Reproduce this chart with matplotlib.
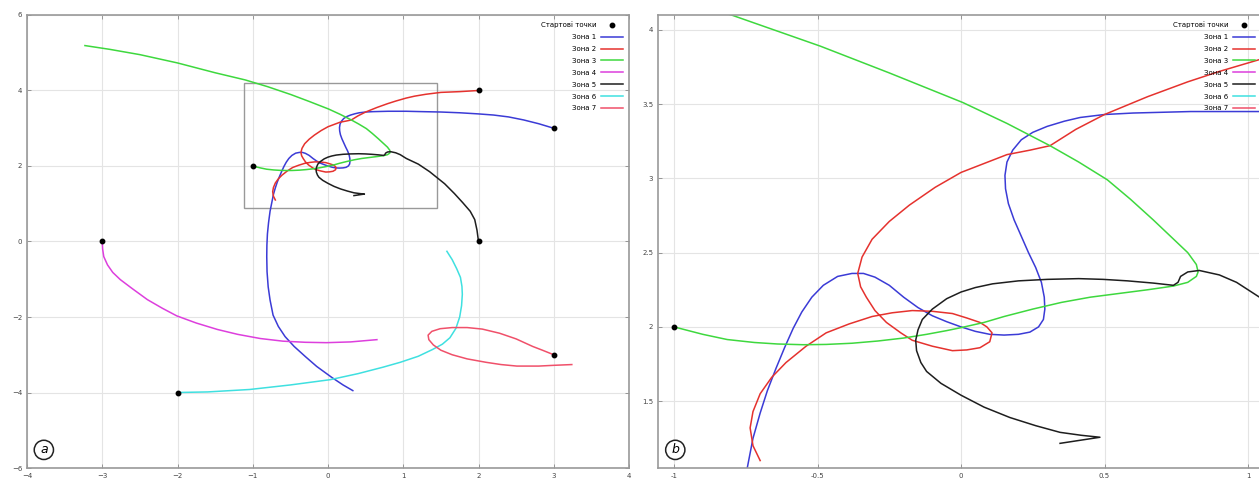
import matplotlib
matplotlib.use("Agg")
import matplotlib.pyplot as plt
from matplotlib.patches import Rectangle

# starting points of the trajectories
start_x = [3, 2, -1, -3, 2, -2, 3]
start_y = [3, 4, 2, 0, 0, -4, -3]

# trajectories
zone1_x = [3.0, 2.8, 2.6, 2.4, 2.2, 2.0, 1.75, 1.5, 1.25, 1.04, 0.8, 0.6, 0.5, 0.415, 0.36,
           0.30, 0.25, 0.21, 0.18, 0.16, 0.153, 0.155, 0.165, 0.185, 0.21, 0.235, 0.26, 0.28,
           0.29, 0.292, 0.287, 0.27, 0.24, 0.20, 0.15, 0.10, 0.05, 0.0, -0.05, -0.10, -0.15,
           -0.20, -0.25, -0.30, -0.34, -0.38, -0.43, -0.48, -0.52, -0.555, -0.585, -0.615,
           -0.645, -0.675, -0.70, -0.725, -0.745, -0.77, -0.79, -0.805, -0.812, -0.814,
           -0.81, -0.795, -0.77, -0.73, -0.66, -0.57, -0.45, -0.30, -0.15, 0.05, 0.20, 0.33]
zone1_y = [3.0, 3.12, 3.22, 3.3, 3.35, 3.38, 3.41, 3.43, 3.44, 3.45, 3.45, 3.44, 3.43, 3.41, 3.385,
           3.35, 3.31, 3.26, 3.19, 3.11, 3.02, 2.93, 2.83, 2.72, 2.61, 2.50, 2.40, 2.30,
           2.20, 2.12, 2.05, 2.0, 1.965, 1.95, 1.945, 1.95, 1.97, 2.0, 2.035, 2.075, 2.13,
           2.20, 2.28, 2.335, 2.36, 2.36, 2.34, 2.28, 2.20, 2.10, 1.99, 1.86,
           1.72, 1.57, 1.42, 1.25, 1.05, 0.8, 0.5, 0.2, -0.1, -0.4,
           -0.8, -1.2, -1.55, -1.95, -2.25, -2.52, -2.78, -3.05, -3.31, -3.6, -3.8, -3.95]

zone2_x = [2.0, 1.75, 1.5, 1.3, 1.15, 1.04, 0.9, 0.79, 0.65, 0.5, 0.4, 0.31, 0.24, 0.16, 0.08,
           0.0, -0.09, -0.18, -0.25, -0.31, -0.345, -0.36, -0.35, -0.33, -0.30, -0.26, -0.21,
           -0.17, -0.10, -0.03, 0.02, 0.066, 0.10, 0.108, 0.09, 0.066, 0.02, -0.03, -0.10,
           -0.17, -0.24, -0.31, -0.39, -0.47, -0.54, -0.61, -0.66, -0.70, -0.725, -0.735,
           -0.725, -0.70]
zone2_y = [4.0, 3.97, 3.95, 3.9, 3.85, 3.80, 3.72, 3.65, 3.55, 3.43, 3.33, 3.22, 3.19, 3.16, 3.10,
           3.04, 2.94, 2.82, 2.71, 2.59, 2.47, 2.36, 2.27, 2.20, 2.11, 2.03, 1.96,
           1.91, 1.87, 1.84, 1.845, 1.86, 1.90, 1.96, 2.0, 2.03, 2.06, 2.09, 2.105,
           2.11, 2.095, 2.07, 2.02, 1.96, 1.87, 1.76, 1.66, 1.55, 1.43, 1.32,
           1.2, 1.10]

zone3_x = [-1.0, -0.9, -0.815, -0.72, -0.64, -0.55, -0.47, -0.38, -0.29, -0.2, -0.12, -0.05,
           0.0, 0.08, 0.15, 0.25, 0.35, 0.45, 0.55, 0.65, 0.74, 0.79, 0.82, 0.826, 0.82, 0.79,
           0.73, 0.67, 0.59, 0.51, 0.41, 0.31, 0.16, 0.007, -0.25, -0.49, -0.80, -1.1, -1.5,
           -2.0, -2.5, -2.9, -3.23]
zone3_y = [2.0, 1.95, 1.915, 1.895, 1.885, 1.88, 1.882, 1.89, 1.905, 1.925, 1.95, 1.975,
           1.995, 2.03, 2.07, 2.12, 2.165, 2.2, 2.225, 2.25, 2.275, 2.30, 2.34, 2.37, 2.42, 2.50,
           2.61, 2.72, 2.86, 2.99, 3.11, 3.22, 3.37, 3.51, 3.71, 3.89, 4.1, 4.28, 4.47,
           4.73, 4.95, 5.09, 5.19]

zone4_x = [-3.0, -2.995, -2.98, -2.93, -2.86, -2.76, -2.6, -2.40, -2.2, -2.01, -1.75, -1.47,
           -1.2, -0.90, -0.6, -0.3, -0.02, 0.3, 0.65]
zone4_y = [0.0, -0.2, -0.40, -0.62, -0.82, -1.01, -1.25, -1.54, -1.77, -1.97, -2.16, -2.33,
           -2.46, -2.57, -2.64, -2.67, -2.68, -2.66, -2.60]

zone5_x = [2.0, 1.98, 1.95, 1.89, 1.79, 1.68, 1.55, 1.35, 1.2, 1.04, 0.96, 0.90, 0.83, 0.79,
           0.765, 0.756, 0.74, 0.67, 0.58, 0.495, 0.41, 0.3, 0.2, 0.11, 0.05, 0.0, -0.05,
           -0.10, -0.135, -0.15, -0.158, -0.155, -0.14, -0.12, -0.07, 0.0, 0.08, 0.17, 0.26,
           0.345, 0.42, 0.484, 0.345]
zone5_y = [0.0, 0.3, 0.58, 0.8, 1.03, 1.27, 1.53, 1.85, 2.05, 2.2, 2.3, 2.35, 2.38, 2.37,
           2.34, 2.30, 2.28, 2.295, 2.31, 2.32, 2.325, 2.32, 2.31, 2.29, 2.265, 2.235, 2.19,
           2.12, 2.05, 1.98, 1.91, 1.84, 1.76, 1.70, 1.62, 1.54, 1.46, 1.39, 1.335,
           1.29, 1.27, 1.257, 1.216]

zone6_x = [-2.0, -1.6, -1.04, -0.5, 0.03, 0.4, 0.73, 0.96, 1.2, 1.39, 1.52, 1.62, 1.70, 1.75,
           1.775, 1.785, 1.78, 1.76, 1.71, 1.65, 1.58]
zone6_y = [-4.0, -3.985, -3.92, -3.8, -3.66, -3.5, -3.33, -3.2, -3.04, -2.86, -2.72, -2.55,
           -2.3, -2.0, -1.7, -1.4, -1.19, -0.95, -0.72, -0.48, -0.26]

zone7_x = [3.0, 2.85, 2.72, 2.5, 2.28, 2.05, 1.85, 1.65, 1.49, 1.38, 1.33, 1.34, 1.40, 1.50,
           1.65, 1.85, 2.1, 2.3, 2.51, 2.8, 3.0, 3.24]
zone7_y = [-3.0, -2.88, -2.78, -2.58, -2.43, -2.32, -2.28, -2.28, -2.31, -2.38, -2.48, -2.6,
           -2.74, -2.88, -3.0, -3.11, -3.2, -3.26, -3.3, -3.3, -3.28, -3.26]

zone_labels = ["Зона 1", "Зона 2", "Зона 3", "Зона 4", "Зона 5", "Зона 6", "Зона 7"]
zone_colors = ["#3b3bd6", "#e5322e", "#3ed83e", "#dd3fdd", "#1e1e1e", "#3fe0e0", "#f0506a"]

zones = [(zone1_x, zone1_y), (zone2_x, zone2_y), (zone3_x, zone3_y), (zone4_x, zone4_y),
         (zone5_x, zone5_y), (zone6_x, zone6_y), (zone7_x, zone7_y)]

# zoom window drawn on the left panel
box_x = (-1.115, 1.45)
box_y = (0.90, 4.21)

fig = plt.figure(figsize=(12.59, 4.86), dpi=100)
ax1 = fig.add_axes([27 / 1259, 18 / 486, 602 / 1259, 453 / 486])
ax2 = fig.add_axes([658 / 1259, 18 / 486, 617 / 1259, 453 / 486])


def draw(ax, letter, leg_x):
    ax.plot(start_x, start_y, "o", color="black", ms=3.2, zorder=5, label="Стартові точки")
    for (zx, zy), lab, c in zip(zones, zone_labels, zone_colors):
        ax.plot(zx, zy, color=c, lw=1.1, label=lab, solid_joinstyle="round")
    ax.grid(True, color="#e4e4e4", lw=0.8)
    ax.set_axisbelow(True)
    for s in ax.spines.values():
        s.set_color("#999999")
        s.set_linewidth(1.2)
    ax.tick_params(direction="in", length=3, width=0.6, colors="#888888",
                   labelsize=5, labelcolor="#444444", top=True, right=True)
    ax.legend(loc="upper right", bbox_to_anchor=(leg_x, 1.0), frameon=False,
              markerfirst=False, fontsize=5, handlelength=3.2, labelspacing=0.85,
              borderaxespad=0.5, handletextpad=0.6)
    ax.text(0.028, 0.04, letter, transform=ax.transAxes, fontsize=9, style="italic",
            ha="center", va="center",
            bbox=dict(boxstyle="circle,pad=0.25", fc="white", ec="#222222", lw=1.1))


draw(ax1, "a", 1.0)
ax1.set_xlim(-4, 4)
ax1.set_ylim(-6, 6)
ax1.set_xticks(range(-4, 5))
ax1.set_yticks(range(-6, 7, 2))
ax1.add_patch(Rectangle((box_x[0], box_y[0]), box_x[1] - box_x[0], box_y[1] - box_y[0],
                        fill=False, ec="#999999", lw=1.0))

draw(ax2, "b", 1.0 - 14 / 617)
ax2.set_xlim(-1.056, 1.094)
ax2.set_ylim(1.05, 4.1)
ax2.set_xticks([-1, -0.5, 0, 0.5, 1])
ax2.set_yticks([1.5, 2, 2.5, 3, 3.5, 4])
ax2.set_xticklabels(["-1", "-0.5", "0", "0.5", "1"])
ax2.set_yticklabels(["1.5", "2", "2.5", "3", "3.5", "4"])

fig.savefig("out.png", dpi=100)
